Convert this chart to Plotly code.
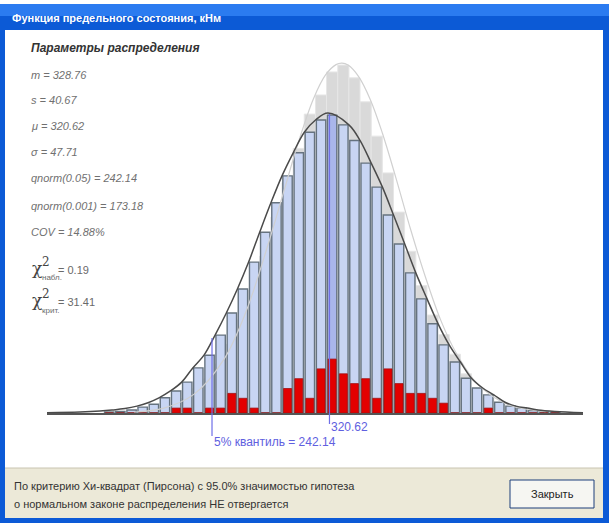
import plotly.graph_objects as go

# ---------------- data ----------------
bin_centers = [173.5, 180.9, 188.4, 195.8, 203.3, 210.7, 218.2, 225.6, 233.0, 240.5,
               247.9, 255.4, 262.8, 270.3, 277.7, 285.2, 292.6, 300.1, 307.5, 315.0,
               322.4, 329.9, 337.3, 344.8, 352.2, 359.7, 367.1, 374.6, 382.0, 389.5,
               396.9, 404.4, 411.8, 419.2, 426.7, 434.1, 441.6, 449.0, 456.5, 463.9, 471.4]
bin_width = 7.45

theor_freq = [0.2, 0.3, 0.6, 1.2, 1.8, 3.1, 4.5, 6.3, 9.2, 11.8,
              15.9, 20.4, 25.3, 30.8, 36.9, 42.9, 48.4, 53.1, 57.3, 59.8,
              60.8, 58.8, 55.6, 51.0, 46.1, 40.4, 34.5, 28.6, 23.3, 18.2,
              13.9, 10.4, 7.1, 5.1, 3.7, 2.2, 1.4, 1.0, 0.5, 0.2, 0.1]

empir_freq = [0, 0, 0, 0.2, 0.5, 1.0, 1.5, 3.0, 5.0, 7.0,
              10.0, 14.0, 19.0, 25.0, 32.0, 40.0, 47.0, 54.0, 61.0, 64.9,
              69.6, 71.0, 68.4, 63.5, 56.5, 49.0, 41.0, 33.0, 26.0, 20.0,
              16.0, 12.0, 8.0, 5.0, 3.5, 2.0, 1.2, 0.8, 0.4, 0, 0]

red_counts = [0, 0, 0, 0, 0, 0, 1, 1, 0, 1,
              1, 4, 3, 1, 0, 0, 5, 7, 3, 9,
              11, 8, 6, 7, 3, 9, 6, 4, 4, 3,
              2, 0, 0, 0, 1, 0, 0, 0, 0, 0, 0]

fit_x = [131.9, 154.0, 167.3, 175.3, 184.0, 192.0, 199.4, 206.7, 214.4, 221.9, 229.3,
         236.8, 244.2, 251.7, 259.1, 266.6, 274.0, 281.5, 288.9, 296.4, 303.8, 311.3,
         319.6, 333.6, 341.1, 348.5, 356.0, 363.4, 370.9, 378.3, 385.8, 393.2, 400.6,
         408.1, 415.5, 423.0, 430.4, 437.9, 445.2, 452.8, 459.9, 471.3, 490.0]
fit_y = [0.05, 0.2, 0.4, 0.6, 0.9, 1.4, 2.1, 3.1, 4.5, 6.3, 9.2,
         11.8, 15.9, 20.4, 25.3, 30.8, 36.9, 42.9, 48.4, 53.1, 57.3, 59.8,
         61.2, 58.8, 55.6, 51.0, 46.1, 40.4, 34.5, 28.6, 23.3, 18.2, 13.9,
         10.4, 7.1, 5.1, 3.7, 2.2, 1.4, 1.0, 0.6, 0.3, 0.05]

emp_x = [190, 210, 230, 250, 265, 280, 290, 300, 310, 318, 325, 329, 333, 340,
         348, 356, 365, 375, 385, 395, 405, 420, 440, 465]
emp_y = [0.2, 1.0, 3.8, 10.9, 20.8, 34.8, 45.1, 55.4, 64.2, 69.0, 71.1, 71.4, 71.0, 68.7,
         63.9, 57.1, 48.0, 37.3, 27.5, 18.9, 12.4, 5.8, 1.7, 0.3]

mu_value = 320.62
q05_value = 242.14

param_lines = ["m = 328.76", "s = 40.67", "\u03bc = 320.62", "\u03c3 = 47.71",
               "qnorm(0.05) = 242.14", "qnorm(0.001) = 173.18", "COV = 14.88%"]
chi_obs = "0.19"
chi_crit = "31.41"

# ---------------- geometry helpers ----------------
W, H = 609, 523
L, R, T, B = 47, 26, 21, 110
PW, PH = W - L - R, H - T - B


def px(x):
    return (x - L) / PW


def py(y):
    return (H - B - y) / PH


fig = go.Figure()

fig.add_trace(go.Bar(x=bin_centers, y=empir_freq, width=bin_width,
                     marker=dict(color="#d9d9d9", line=dict(color="#e6e6e6", width=1)),
                     hoverinfo="skip"))
blue_colors = ["#a9b6ea" if abs(c - mu_value) < bin_width / 2 else "#c8d5f3" for c in bin_centers]
fig.add_trace(go.Bar(x=bin_centers, y=theor_freq, width=bin_width * 0.84,
                     marker=dict(color=blue_colors, line=dict(color="#66737f", width=1.4)),
                     hoverinfo="skip"))
fig.add_trace(go.Bar(x=bin_centers, y=red_counts, width=bin_width * 0.72,
                     marker=dict(color="#e30000", line=dict(color="#a01010", width=0.8)),
                     hoverinfo="skip"))
fig.add_trace(go.Scatter(x=emp_x, y=emp_y, mode="lines", line=dict(color="#d0d0d0", width=1.2, shape="spline"),
                         hoverinfo="skip"))
fig.add_trace(go.Scatter(x=fit_x, y=fit_y, mode="lines", line=dict(color="#4a4a4a", width=1.5, shape="spline"),
                         hoverinfo="skip"))

PANEL_TOP = 468
shapes = []
# window chrome
shapes.append(dict(type="rect", xref="paper", yref="paper", x0=px(0), x1=px(609), y0=py(523), y1=py(4),
                   fillcolor="#0c5ad6", line=dict(width=0), layer="below"))
shapes.append(dict(type="rect", xref="paper", yref="paper", x0=px(0), x1=px(609), y0=py(16), y1=py(4),
                   fillcolor="#2b7bf0", line=dict(width=0), layer="below"))
shapes.append(dict(type="rect", xref="paper", yref="paper", x0=px(5), x1=px(603), y0=py(518), y1=py(30),
                   fillcolor="#ffffff", line=dict(width=0), layer="below"))
shapes.append(dict(type="rect", xref="paper", yref="paper", x0=px(5), x1=px(603), y0=py(518), y1=py(PANEL_TOP),
                   fillcolor="#ece9d8", line=dict(width=0), layer="below"))
shapes.append(dict(type="line", xref="paper", yref="paper", x0=px(5), x1=px(603), y0=py(PANEL_TOP), y1=py(PANEL_TOP),
                   line=dict(color="#c8c4b0", width=1)))
# button
shapes.append(dict(type="rect", xref="paper", yref="paper", x0=px(510), x1=px(594), y0=py(PANEL_TOP + 40), y1=py(PANEL_TOP + 12),
                   fillcolor="#f6f6f2", line=dict(color="#1c3f7a", width=1)))
# mu and quantile lines
shapes.append(dict(type="line", xref="x", yref="paper", x0=mu_value, x1=mu_value, y0=py(424), y1=py(114),
                   line=dict(color="#6f6fe8", width=1.2)))
shapes.append(dict(type="line", xref="x", yref="paper", x0=q05_value, x1=q05_value, y0=py(436), y1=py(338),
                   line=dict(color="#6f6fe8", width=1.2)))

ann = []
ann.append(dict(text="<b>\u0424\u0443\u043d\u043a\u0446\u0438\u044f \u043f\u0440\u0435\u0434\u0435\u043b\u044c\u043d\u043e\u0433\u043e \u0441\u043e\u0441\u0442\u043e\u044f\u043d\u0438\u044f, \u043a\u041d\u043c</b>",
                x=px(10), y=py(18), xanchor="left", yanchor="middle",
                font=dict(family="Liberation Sans", size=11, color="#ffffff"), showarrow=False))
ann.append(dict(text="<b><i>\u041f\u0430\u0440\u0430\u043c\u0435\u0442\u0440\u044b \u0440\u0430\u0441\u043f\u0440\u0435\u0434\u0435\u043b\u0435\u043d\u0438\u044f</i></b>",
                x=px(29), y=py(48), xanchor="left", yanchor="middle",
                font=dict(family="Liberation Sans", size=12, color="#333333"), showarrow=False))
ys = [75, 100, 126, 152, 178, 206, 232]
for t, yy in zip(param_lines, ys):
    ann.append(dict(text="<i>" + t + "</i>", x=px(29), y=py(yy), xanchor="left", yanchor="middle",
                    font=dict(family="Liberation Sans", size=11, color="#707070"), showarrow=False))
for base, sub, val in [(268, "\u043d\u0430\u0431\u043b.", chi_obs), (300, "\u043a\u0440\u0438\u0442.", chi_crit)]:
    ann.append(dict(text="\u03c7", x=px(30), y=py(base), xanchor="left", yanchor="middle",
                    font=dict(family="DejaVu Serif", size=17, color="#444444"), showarrow=False))
    ann.append(dict(text="2", x=px(40), y=py(base - 6), xanchor="left", yanchor="middle",
                    font=dict(family="DejaVu Serif", size=12, color="#444444"), showarrow=False))
    ann.append(dict(text=sub, x=px(40), y=py(base + 10), xanchor="left", yanchor="middle",
                    font=dict(family="Liberation Sans", size=8, color="#6a6a6a"), showarrow=False))
    ann.append(dict(text="= " + val, x=px(56), y=py(base + 2), xanchor="left", yanchor="middle",
                    font=dict(family="Liberation Sans", size=11, color="#6a6a6a"), showarrow=False))
ann.append(dict(text="320.62", x=mu_value, xref="x", y=py(427), xanchor="left", yanchor="middle",
                font=dict(family="Liberation Sans", size=12, color="#6060e0"), showarrow=False))
ann.append(dict(text="5% \u043a\u0432\u0430\u043d\u0442\u0438\u043b\u044c = 242.14", x=q05_value, xref="x", y=py(442),
                xanchor="left", yanchor="middle",
                font=dict(family="Liberation Sans", size=12, color="#6060e0"), showarrow=False))
ann.append(dict(text="\u041f\u043e \u043a\u0440\u0438\u0442\u0435\u0440\u0438\u044e \u0425\u0438-\u043a\u0432\u0430\u0434\u0440\u0430\u0442 (\u041f\u0438\u0440\u0441\u043e\u043d\u0430) \u0441 95.0% \u0437\u043d\u0430\u0447\u0438\u043c\u043e\u0441\u0442\u044c\u044e \u0433\u0438\u043f\u043e\u0442\u0435\u0437\u0430",
                x=px(12), y=py(PANEL_TOP + 18), xanchor="left", yanchor="middle",
                font=dict(family="Liberation Sans", size=11, color="#333333"), showarrow=False))
ann.append(dict(text="\u043e \u043d\u043e\u0440\u043c\u0430\u043b\u044c\u043d\u043e\u043c \u0437\u0430\u043a\u043e\u043d\u0435 \u0440\u0430\u0441\u043f\u0440\u0435\u0434\u0435\u043b\u0435\u043d\u0438\u044f \u041d\u0415 \u043e\u0442\u0432\u0435\u0440\u0433\u0430\u0435\u0442\u0441\u044f",
                x=px(12), y=py(PANEL_TOP + 36), xanchor="left", yanchor="middle",
                font=dict(family="Liberation Sans", size=11, color="#333333"), showarrow=False))
ann.append(dict(text="\u0417\u0430\u043a\u0440\u044b\u0442\u044c", x=px(552), y=py(PANEL_TOP + 26), xanchor="center", yanchor="middle",
                font=dict(family="Liberation Sans", size=11, color="#222222"), showarrow=False))
for a in ann:
    a.setdefault("xref", "paper")
    a.setdefault("yref", "paper")

fig.update_layout(
    width=W, height=H, margin=dict(l=L, r=R, t=T, b=B),
    paper_bgcolor="#ffffff", plot_bgcolor="rgba(0,0,0,0)",
    barmode="overlay", bargap=0, showlegend=False,
    xaxis=dict(range=[131.9, 490.0], showgrid=False, zeroline=False, showticklabels=False, ticks="",
               showline=True, linecolor="#555555", linewidth=2),
    yaxis=dict(range=[0, 80], showgrid=False, zeroline=False, showticklabels=False, ticks="", showline=False),
    shapes=shapes, annotations=ann,
)

fig.write_html("out.html", config={"staticPlot": True},
               post_script="document.body.style.margin='0';document.body.style.padding='0';document.body.style.overflow='hidden';")
